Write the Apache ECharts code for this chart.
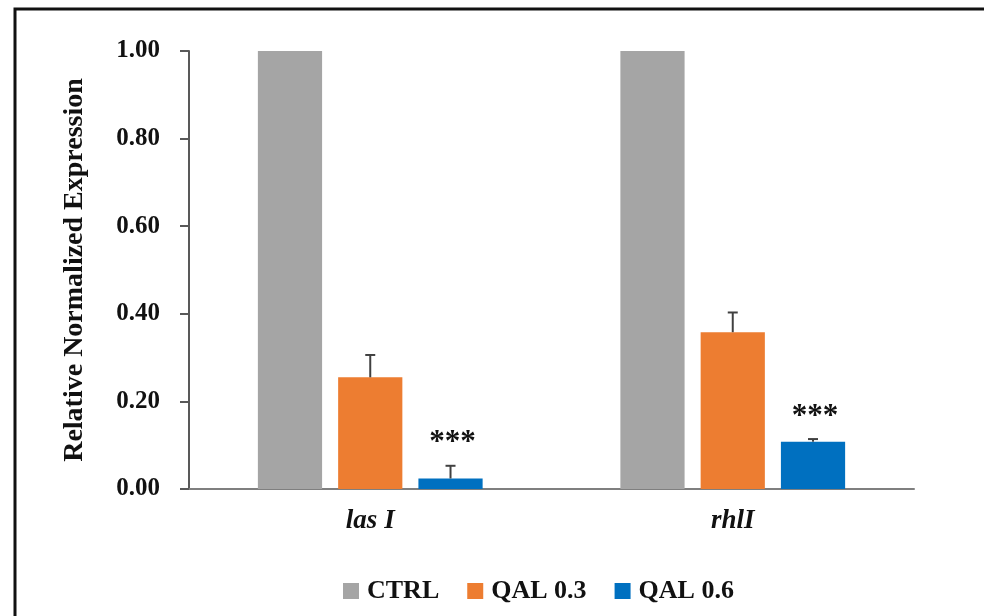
<!DOCTYPE html>
<html>
<head>
<meta charset="utf-8">
<script src="https://cdn.jsdelivr.net/npm/echarts@6/dist/echarts.min.js"></script>
<style>
  html, body { margin: 0; padding: 0; background: #fff; }
  #chart { width: 984px; height: 616px; }
</style>
</head>
<body>
<div id="chart"></div>
<script>
// Genes on the x axis
const genes = ['las I', 'rhlI'];
// Mean relative expression per treatment
const ctrl = [1.00, 1.00];
const qal03 = [0.255, 0.358];
const qal06 = [0.024, 0.108];
// Standard deviations (upper whisker only)
const qal03Err = [0.051, 0.045];
const qal06Err = [0.029, 0.006];
// Significance marks above the QAL 0.6 bars
const qal06Sig = ['***', '***'];
const yTicks = [0, 0.2, 0.4, 0.6, 0.8, 1.0];

const FONT = '"Liberation Serif", "DejaVu Serif", serif';
const colors = { ctrl: '#A5A5A5', q03: '#ED7D31', q06: '#0070C0' };

const chart = echarts.init(document.getElementById('chart'));

const BAR_GAP = '25%';
const BAR_CAT_RATIO = 0.38;
// width of one bar as a share of the category band
const BAR_SHARE = (1 - BAR_CAT_RATIO) / 3.5;

// Upper error bars drawn next to their bars, offset within each category band
function errorSeries(name, vals, errs, seriesIndex, labels) {
  return {
    type: 'custom',
    name: name + ' err',
    z: 5,
    silent: true,
    data: vals.map((v, i) => [i, v, v + errs[i], labels ? labels[i] : '']),
    renderItem: function (params, api) {
      const idx = api.value(0);
      const base = api.coord([idx, api.value(1)]);
      const top = api.coord([idx, api.value(2)]);
      const band = api.size([1, 0])[0];
      const barW = band * BAR_SHARE;
      const gapW = barW * 0.25;
      const offset = (seriesIndex - 1) * (barW + gapW);
      const x = base[0] + offset;
      const cap = 5;
      const children = [
        { type: 'line', shape: { x1: x, y1: base[1], x2: x, y2: top[1] },
          style: { stroke: '#404040', lineWidth: 2 } },
        { type: 'line', shape: { x1: x - cap, y1: top[1], x2: x + cap, y2: top[1] },
          style: { stroke: '#404040', lineWidth: 2 } }
      ];
      const lbl = api.value(3);
      if (lbl) {
        children.push({
          type: 'text',
          style: { x: x + 2, y: top[1] - 7, text: lbl, align: 'center', verticalAlign: 'bottom',
                   font: 'bold 31px ' + FONT, fill: '#111' }
        });
      }
      return { type: 'group', children: children };
    }
  };
}

chart.setOption({
  animation: false,
  backgroundColor: '#fff',
  graphic: [{
    type: 'rect',
    shape: { x: 15, y: 9, width: 1000, height: 700 },
    style: { fill: 'none', stroke: '#111', lineWidth: 3 },
    z: 100
  }],
  grid: { left: 189, right: 70, top: 51, bottom: 127 },
  legend: {
    top: 573,
    left: 338,
    itemWidth: 16,
    itemHeight: 16,
    itemGap: 28,
    icon: 'rect',
    data: ['CTRL', 'QAL 0.3', 'QAL 0.6'],
    textStyle: { fontFamily: FONT, fontWeight: 'bold', fontSize: 26, color: '#111', padding: [0, 0, 0, 3] }
  },
  xAxis: {
    type: 'category',
    data: genes,
    axisLine: { lineStyle: { color: '#7f7f7f', width: 2 } },
    axisTick: { show: false },
    axisLabel: { fontFamily: FONT, fontWeight: 'bold', fontStyle: 'italic', fontSize: 27,
                 color: '#111', margin: 19 }
  },
  yAxis: {
    type: 'value',
    min: 0, max: 1, interval: 0.2,
    name: 'Relative Normalized Expression',
    nameLocation: 'middle',
    nameGap: 100,
    nameTextStyle: { fontFamily: FONT, fontWeight: 'bold', fontSize: 28, color: '#111' },
    axisLine: { show: true, lineStyle: { color: '#595959', width: 2 } },
    axisTick: { show: true, inside: false, length: 9, lineStyle: { color: '#595959', width: 2 } },
    splitLine: { show: false },
    axisLabel: {
      fontFamily: FONT, fontWeight: 'bold', fontSize: 25, color: '#111', margin: 29,
      formatter: v => yTicks.some(t => Math.abs(t - v) < 1e-9) ? v.toFixed(2) : ''
    }
  },
  series: [
    { name: 'CTRL', type: 'bar', data: ctrl, barGap: BAR_GAP, barCategoryGap: '38%',
      itemStyle: { color: colors.ctrl } },
    { name: 'QAL 0.3', type: 'bar', data: qal03, barGap: BAR_GAP, barCategoryGap: '38%',
      itemStyle: { color: colors.q03 } },
    { name: 'QAL 0.6', type: 'bar', data: qal06, barGap: BAR_GAP, barCategoryGap: '38%',
      itemStyle: { color: colors.q06 } },
    errorSeries('QAL 0.3', qal03, qal03Err, 1, null),
    errorSeries('QAL 0.6', qal06, qal06Err, 2, qal06Sig)
  ]
});
</script>
</body>
</html>
